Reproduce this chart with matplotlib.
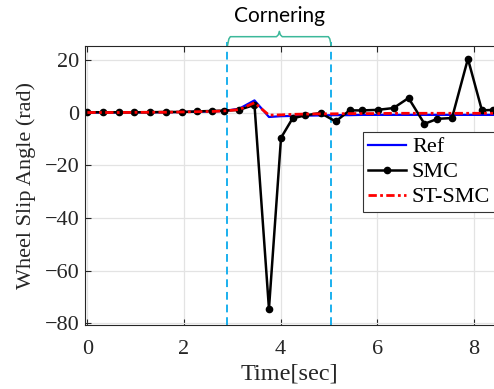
from matplotlib import pyplot as plt
import numpy as np

# time samples (s) and wheel slip angle values
t = [0, 0.32, 0.65, 0.97, 1.3, 1.62, 1.95, 2.27, 2.59, 2.83, 3.14, 3.46, 3.76,
     4.01, 4.25, 4.51, 4.83, 5.14, 5.43, 5.69, 6.01, 6.34, 6.65, 6.98, 7.25,
     7.55, 7.88, 8.17, 8.4]
smc = [0.2, 0.2, 0.2, 0.2, 0.2, 0.3, 0.3, 0.5, 0.7, 0.8, 1.1, 3.0, -74.5,
       -9.5, -2.1, -1.0, -0.1, -3.3, 0.9, 0.9, 1.1, 1.8, 5.6, -4.2, -2.3,
       -2.0, 20.5, 0.9, 1.1]
ref = [0.1, 0.1, 0.1, 0.15, 0.2, 0.2, 0.3, 0.4, 0.5, 0.7, 1.5, 4.7, -1.6,
       -1.3, -1.2, -1.1, -1.0, -0.9, -0.9, -0.8, -0.8, -0.8, -0.8, -0.8, -0.8,
       -0.8, -0.8, -0.8, -0.8]
stsmc = [0.1, 0.1, 0.1, 0.15, 0.2, 0.2, 0.3, 0.4, 0.5, 0.7, 1.2, 3.8, -0.9,
         -0.8, -0.6, -0.5, -0.4, -0.4, -0.3, -0.3, -0.3, -0.2, -0.2, -0.2, -0.2,
         -0.2, -0.2, -0.2, -0.2]

corner_start, corner_end = 2.9, 5.05
xticks = [0, 2, 4, 6, 8]
yticks = [-80, -60, -40, -20, 0, 20]

plt.rcParams['font.family'] = ['Liberation Serif', 'DejaVu Serif']
txt = "#262626"

fig = plt.figure(figsize=(4.94, 3.89), dpi=100)
ax = fig.add_axes([0.172, 0.164, 0.828, 0.718])

ax.plot(t, ref, color="blue", lw=1.6, label="Ref")
ax.plot(t, smc, color="black", lw=1.8, marker="o", ms=4.5, label="SMC")
ax.plot(t, stsmc, color="red", lw=2.0, dashes=[3, 1.2, 1, 1.2], label="ST-SMC")

# cornering window
for xc in (corner_start, corner_end):
    ax.plot([xc, xc], [-80.7, 27], color="#1ab0ee", lw=1.4, ls=(0, (4, 2.5)),
            clip_on=False, zorder=1)

# brace above the window
trans = ax.get_xaxis_transform()
xm = (corner_start + corner_end) / 2
d = 0.06
bx = [corner_start, corner_start + d / 2, corner_start + d, xm - d, xm - d / 3, xm,
      xm + d / 3, xm + d, corner_end - d, corner_end - d / 2, corner_end]
by = [1.0, 1.025, 1.033, 1.033, 1.04, 1.052, 1.04, 1.033, 1.033, 1.025, 1.0]
ax.plot(bx, by, color="#3cb89a", lw=1.1, transform=trans, clip_on=False)
ax.text(xm, 1.108, "Cornering", transform=trans, ha="center", va="center",
        fontsize=15, family=["Lato", "DejaVu Sans"], color="black")

ax.set_xlim(-0.05, 8.42)
ax.set_ylim(-80.7, 25.4)
ax.set_xticks(xticks)
ax.set_yticks(yticks)
ax.tick_params(direction="in", top=True, right=False, labelsize=16,
               colors=txt, length=4)
ax.tick_params(axis="x", pad=11)
ax.tick_params(axis="y", pad=4)
ax.grid(True, color="#e3e3e3", lw=0.9)
ax.set_axisbelow(True)
for s in ax.spines.values():
    s.set_color(txt)
ax.spines["right"].set_visible(False)

ax.set_xlabel("Time[sec]", fontsize=17.5, color=txt, labelpad=3)
ax.set_ylabel("Wheel Slip Angle (rad)", fontsize=16, color=txt, labelpad=6)

leg = ax.legend(loc="upper left", bbox_to_anchor=(0.68, 0.69), fontsize=16,
                fancybox=False, edgecolor="#333333", framealpha=1,
                handlelength=1.75, labelspacing=0.2, borderpad=0.2,
                handletextpad=0.25, borderaxespad=0)
leg.get_frame().set_linewidth(0.8)

fig.savefig("out.png", dpi=100)
